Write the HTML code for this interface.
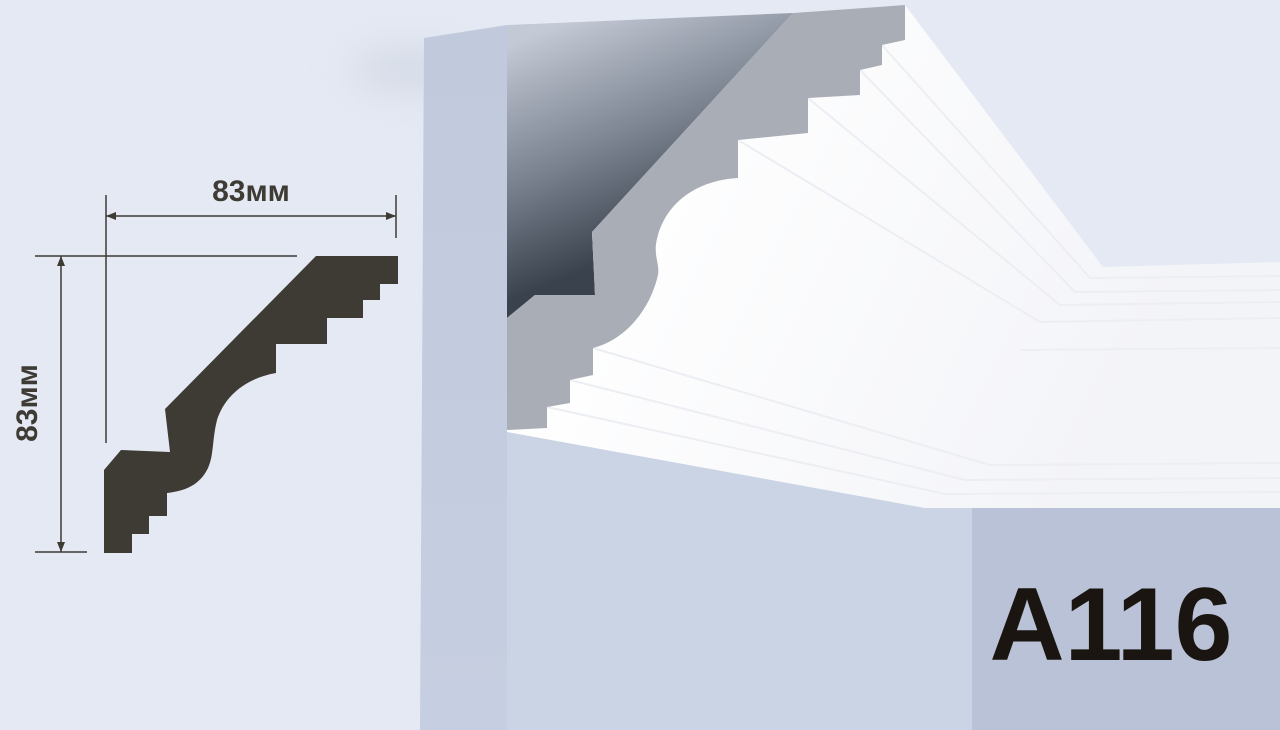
<!DOCTYPE html>
<html><head><meta charset="utf-8"><style>
html,body{margin:0;padding:0;background:#e5e9f3;}
svg{display:block}
</style></head><body>
<svg width="1280" height="730" viewBox="0 0 1280 730" xmlns="http://www.w3.org/2000/svg">
<defs>
<linearGradient id="sh" x1="520" y1="40" x2="610" y2="260" gradientUnits="userSpaceOnUse">
<stop offset="0" stop-color="#c3c9d5"/><stop offset="0.55" stop-color="#7a828f"/><stop offset="1" stop-color="#3a424e"/></linearGradient>
<linearGradient id="pil" x1="0" y1="0" x2="0" y2="1">
<stop offset="0" stop-color="#c0cadc"/><stop offset="1" stop-color="#c6cfe1"/></linearGradient>
<linearGradient id="wm" x1="600" y1="200" x2="1100" y2="450" gradientUnits="userSpaceOnUse">
<stop offset="0" stop-color="#ffffff"/><stop offset="1" stop-color="#f3f4f8"/></linearGradient>
<filter id="bl" x="-100%" y="-100%" width="300%" height="300%"><feGaussianBlur stdDeviation="18"/></filter>
</defs>
<rect width="1280" height="730" fill="#e5e9f3"/>
<ellipse cx="410" cy="70" rx="60" ry="25" fill="#d6dce7" filter="url(#bl)"/>
<rect x="507" y="420" width="470" height="310" fill="#cbd4e5"/>
<rect x="972" y="505" width="308" height="225" fill="#b9c2d6"/>
<polygon points="424,38 507,25 507,730 420,730" fill="url(#pil)"/>
<polygon points="905,5 1103,267 1280,262 1280,508 925,508 507,432 507,300 793,13" fill="url(#wm)"/>
<g stroke="#eceef3" stroke-width="2" fill="none">
<polyline points="882,45 1090,278 1280,276"/>
<polyline points="860,70 1075,292 1280,290"/>
<polyline points="808,98 1060,305 1280,302"/>
<polyline points="738,140 1040,322 1280,318"/>
<polyline points="1020,350 1280,348"/>
<polyline points="593,348 990,465 1280,463"/>
<polyline points="570,380 965,480 1280,478"/>
<polyline points="547,407 945,494 1280,492"/>
</g>
<polygon points="507,25 793,13 592,232 595,295 535,295 507,318" fill="url(#sh)"/>
<path d="M793,13 L905,5 L905,40 L882,45 L882,65 L860,70 L860,95 L808,98 L808,133 L738,140 L738,178 C700,180 668,200 658,235 C652,255 660,262 658,275 C650,310 625,340 593,348 L593,375 L570,380 L570,403 L547,407 L547,428 L507,430 L507,318 L535,295 L595,295 L592,232 Z" fill="#a9adb6"/>
<path d="M316,256 L398,256 L398,284 L380,284 L380,300 L363,300 L363,318 L327,318 L327,344 L276,344 L276,373 C247,378 225,395 217,420 C212,440 214,455 208,468 C200,485 185,491 167,493 L167,516 L149,516 L149,534 L132,534 L132,553 L104,553 L104,470 L121,450 L170,452 L165,409 Z" fill="#3e3a34"/>
<g stroke="#3e3a34" stroke-width="1.5" fill="#3e3a34">
<line x1="106" y1="195" x2="106" y2="443"/>
<line x1="106" y1="216" x2="396" y2="216"/>
<line x1="396" y1="195" x2="396" y2="238"/>
<line x1="35" y1="256" x2="297" y2="256"/>
<line x1="61" y1="256" x2="61" y2="552"/>
<line x1="35" y1="552" x2="87" y2="552"/>
<polygon points="106,216 116,212 116,220" stroke="none"/>
<polygon points="396,216 386,212 386,220" stroke="none"/>
<polygon points="61,256 57,266 65,266" stroke="none"/>
<polygon points="61,552 57,542 65,542" stroke="none"/>
</g>
<text x="251" y="201" text-anchor="middle" font-family="Liberation Sans, sans-serif" font-weight="bold" font-size="30" fill="#3e3a34">83мм</text>
<text transform="translate(37,403) rotate(-90)" text-anchor="middle" font-family="Liberation Sans, sans-serif" font-weight="bold" font-size="30" fill="#3e3a34">83мм</text>
<text x="1111" y="660" text-anchor="middle" font-family="Liberation Sans, sans-serif" font-weight="bold" font-size="104" fill="#1a1510">A116</text>
</svg>
</body></html>
